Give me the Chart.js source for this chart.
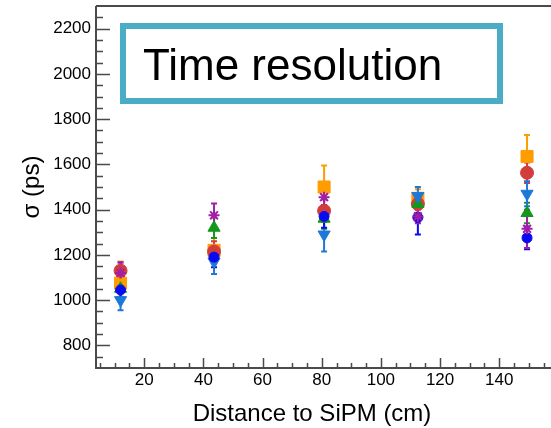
<!DOCTYPE html>
<html>
<head>
<meta charset="utf-8">
<title>Time resolution</title>
<script src="https://cdn.jsdelivr.net/npm/chart.js@4.4.1/dist/chart.umd.min.js"></script>
<style>
  html, body { margin: 0; padding: 0; background: #fff; }
  #wrap { width: 551px; height: 428px; }
</style>
</head>
<body>
<div id="wrap"><canvas id="chart" width="551" height="428"></canvas></div>
<script>
// distance to SiPM (cm), as placed on the axis
const distances = [12, 43.6, 80.8, 112.5, 149.4]

// sigma (ps) and errors for each measurement series
const orangeSigma = [1075, 1220, 1500, 1450, 1635]
const orangeErr = [35, 55, 95, 40, 95]
const redSigma = [1130, 1215, 1395, 1425, 1563]
const redErr = [40, 45, 50, 45, 45]
const greenSigma = [1050, 1320, 1360, 1425, 1385]
const greenErr = [35, 45, 45, 40, 45]
const lightBlueSigma = [1000, 1170, 1290, 1460, 1470]
const lightBlueErr = [45, 55, 75, 40, 55]
const blueSigma = [1045, 1190, 1370, 1365, 1275]
const blueErr = [35, 45, 50, 75, 50]
const purpleSigma = [1120, 1375, 1455, 1370, 1315]
const purpleErr = [45, 52, 40, 30, 85]

const xTickValues = [20, 40, 60, 80, 100, 120, 140]
const yTickValues = [800, 1000, 1200, 1400, 1600, 1800, 2000, 2200]

const FONT = "'Liberation Sans', Arial, sans-serif"

function points(values) {
    return distances.map((x, i) => ({ x: x, y: values[i] }))
}

function series(label, values, errors, color, style, radius, rotation) {
    return {
        label: label,
        data: points(values),
        errors: errors,
        backgroundColor: color,
        borderColor: color,
        borderWidth: style === 'star' ? 2 : 1,
        pointStyle: style,
        pointRadius: radius,
        pointHoverRadius: radius,
        rotation: rotation || 0,
        showLine: false
    }
}

// error bars, drawn under the markers
const errorBars = {
    id: 'errorBars',
    beforeDatasetsDraw(chart) {
        const ctx = chart.ctx
        const xs = chart.scales.x
        const ys = chart.scales.y
        for (let d = chart.data.datasets.length - 1; d >= 0; d--) {
            const ds = chart.data.datasets[d]
            ctx.save()
            ctx.strokeStyle = ds.borderColor
            ctx.lineWidth = 2
            ds.data.forEach((p, i) => {
                const px = xs.getPixelForValue(p.x)
                const top = ys.getPixelForValue(p.y + ds.errors[i])
                const bot = ys.getPixelForValue(p.y - ds.errors[i])
                ctx.beginPath()
                ctx.moveTo(px, top)
                ctx.lineTo(px, bot)
                ctx.moveTo(px - 3, top)
                ctx.lineTo(px + 3, top)
                ctx.moveTo(px - 3, bot)
                ctx.lineTo(px + 3, bot)
                ctx.stroke()
            })
            ctx.restore()
        }
    }
}

// ROOT style frame: axis lines with ticks pointing inwards
const frame = {
    id: 'frame',
    beforeDatasetsDraw(chart) {
        const ctx = chart.ctx
        const a = chart.chartArea
        const xs = chart.scales.x
        const ys = chart.scales.y
        ctx.save()
        ctx.strokeStyle = '#4a4a4a'
        ctx.lineWidth = 2
        ctx.beginPath()
        ctx.moveTo(a.left, a.top)
        ctx.lineTo(a.right, a.top)
        ctx.moveTo(a.left, a.top)
        ctx.lineTo(a.left, a.bottom)
        ctx.lineTo(a.right, a.bottom)
        ctx.stroke()

        ctx.lineWidth = 1.5
        ctx.beginPath()
        for (let v = 5; v < xs.max; v += 5) {
            if (v < xs.min) continue
            const px = Math.round(xs.getPixelForValue(v)) + 0.5
            const len = v % 20 === 0 ? 10 : 5
            ctx.moveTo(px, a.bottom)
            ctx.lineTo(px, a.bottom - len)
        }
        for (let v = 750; v < ys.max; v += 50) {
            const py = Math.round(ys.getPixelForValue(v)) + 0.5
            const len = v % 200 === 0 ? 14 : 7
            ctx.moveTo(a.left, py)
            ctx.lineTo(a.left + len, py)
        }
        ctx.stroke()

        // x axis title, placed as in the original slide
        ctx.fillStyle = '#000'
        ctx.font = '24px ' + FONT
        ctx.textAlign = 'center'
        ctx.textBaseline = 'middle'
        ctx.fillText('Distance to SiPM (cm)', 312, 414)
        ctx.restore()
    }
}

// the slide caption box laid over the plot
const captionBox = {
    id: 'captionBox',
    afterDraw(chart) {
        const ctx = chart.ctx
        ctx.save()
        ctx.fillStyle = '#fff'
        ctx.fillRect(123, 26, 377, 75)
        ctx.strokeStyle = '#4BACC6'
        ctx.lineWidth = 6
        ctx.strokeRect(123, 26, 377, 75)
        ctx.fillStyle = '#000'
        ctx.font = '44px ' + FONT
        ctx.textAlign = 'left'
        ctx.textBaseline = 'alphabetic'
        ctx.fillText('Time resolution', 143, 80)
        ctx.restore()
    }
}

new Chart(document.getElementById('chart'), {
    type: 'scatter',
    data: {
        datasets: [
            series('purple', purpleSigma, purpleErr, '#A21EA6', 'star', 5.5),
            series('blue', blueSigma, blueErr, '#0A0AF0', 'circle', 5),
            series('light blue', lightBlueSigma, lightBlueErr, '#1E78D8', 'triangle', 7, 180),
            series('green', greenSigma, greenErr, '#12981A', 'triangle', 7),
            series('red', redSigma, redErr, '#D23C3C', 'circle', 6.5),
            series('orange', orangeSigma, orangeErr, '#FF9C00', 'rect', 8.5)
        ]
    },
    options: {
        responsive: false,
        animation: false,
        devicePixelRatio: 1,
        layout: { autoPadding: false, padding: { top: 6, right: 0, left: 0, bottom: 0 } },
        plugins: {
            legend: { display: false },
            tooltip: { enabled: false }
        },
        scales: {
            x: {
                type: 'linear',
                min: 3.7,
                max: 157.5,
                afterBuildTicks: (scale) => { scale.ticks = xTickValues.map(v => ({ value: v })) },
                afterFit: (scale) => {
                    scale.height = 60
                    scale.paddingLeft = 0
                    scale.paddingRight = 0
                },
                grid: { display: false, drawTicks: false },
                border: { display: false },
                ticks: {
                    color: '#000',
                    padding: 2,
                    maxRotation: 0,
                    callback: (v) => String(v),
                    font: { family: FONT, size: 17 }
                }
            },
            y: {
                type: 'linear',
                min: 700,
                max: 2300,
                afterBuildTicks: (scale) => { scale.ticks = yTickValues.map(v => ({ value: v })) },
                afterFit: (scale) => {
                    scale.width = 96
                    scale.paddingTop = 0
                    scale.paddingBottom = 0
                },
                grid: { display: false, drawTicks: false },
                border: { display: false },
                title: {
                    display: true,
                    text: 'σ (ps)',
                    color: '#000',
                    padding: { top: 18, bottom: 0 },
                    font: { family: FONT, size: 24 }
                },
                ticks: {
                    color: '#000',
                    padding: 5,
                    callback: (v) => String(v),
                    font: { family: FONT, size: 17 }
                }
            }
        }
    },
    plugins: [errorBars, frame, captionBox]
})
</script>
</body>
</html>
